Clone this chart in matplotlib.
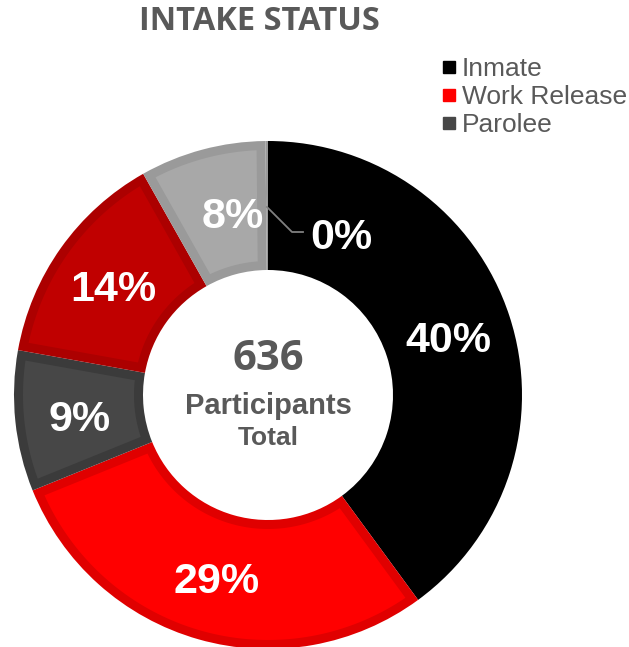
import numpy as np
import matplotlib.pyplot as plt
from matplotlib.lines import Line2D
from matplotlib.patches import Polygon

# intake counts (636 total), clockwise from 12 o'clock
labels = ['Inmate', 'Work Release', 'Parolee', 'Other 1', 'Other 2', 'Other 3']
counts = [254, 184, 57, 89, 51, 1]
pct_text = ['40%', '29%', '9%', '14%', '8%', '0%']
fills = ['#000000', '#FF0000', '#474747', '#C00000', '#A8A8A8', '#9A9A9A']
edges = ['#000000', '#E00000', '#3B3B3B', '#AC0000', '#9A9A9A', '#9A9A9A']
legend_items = ['Inmate', 'Work Release', 'Parolee']
total = 636

fig = plt.figure(figsize=(6.29, 6.47), dpi=100)
ax = fig.add_axes([0, 0, 1, 1])
R = 254.0  # outer radius in px, used as the data unit
cx, cy = 268, 395
r_in = 125 / R

# full slices in the border colour
wedges, _ = ax.pie(counts, startangle=90, counterclock=False, radius=1,
                   colors=edges, wedgeprops=dict(width=1 - r_in, linewidth=0))

# inner fill of each slice, inset by a constant border
d = 9 / R
for w, fc, ec in zip(wedges, fills, edges):
    if fc == ec:
        continue
    t1, t2 = np.radians(w.theta1), np.radians(w.theta2)
    ro, ri = 1 - d, r_in + d
    ao = np.linspace(t1 + np.arcsin(d / ro), t2 - np.arcsin(d / ro), 80)
    ai = np.linspace(t2 - np.arcsin(d / ri), t1 + np.arcsin(d / ri), 80)
    pts = np.vstack([np.c_[ro * np.cos(ao), ro * np.sin(ao)],
                     np.c_[ri * np.cos(ai), ri * np.sin(ai)]])
    ax.add_patch(Polygon(pts, closed=True, facecolor=fc, edgecolor='none'))

ax.set_aspect('auto')
ax.set_xlim(-cx / R, (629 - cx) / R)
ax.set_ylim(-(647 - cy) / R, cy / R)
ax.axis('off')

# percentage labels (the 8% one sits a bit to the right, as in the original)
r_lab = (1 + r_in) / 2
nudge_x = [0, 0, 0, 0, 14, 0]
ang = 90 - 360 * (np.cumsum(counts) - np.array(counts) / 2) / total
for a, t, nx in zip(ang[:5], pct_text[:5], nudge_x):
    x = r_lab * np.cos(np.radians(a)) + nx / R
    y = r_lab * np.sin(np.radians(a)) - 5 / R
    ax.text(x, y, t, ha='center', va='center', color='white',
            fontsize=31, fontweight='bold', family='Liberation Sans')

# 0% label with leader line
p0 = ((267 - cx) / R, (cy - 207) / R)
p1 = ((292 - cx) / R, (cy - 232) / R)
p2 = ((303 - cx) / R, (cy - 232) / R)
ax.plot([p0[0], p1[0], p2[0]], [p0[1], p1[1], p2[1]], color='#808080', lw=1.3)
ax.text((341 - cx) / R, (cy - 238) / R, pct_text[5], ha='center', va='center',
        color='white', fontsize=31, fontweight='bold', family='Liberation Sans')

# center text
ax.text(0, (cy - 359) / R, str(total), ha='center', va='center', color='#595959',
        fontsize=30, fontweight='bold', family='Open Sans')
ax.text(0, (cy - 406) / R, 'Participants', ha='center', va='center',
        color='#595959', fontsize=21, fontweight='bold', family='Liberation Sans')
ax.text(0, (cy - 438) / R, 'Total', ha='center', va='center',
        color='#595959', fontsize=19, fontweight='bold', family='Liberation Sans')

fig.text(259 / 629, 1 - 22 / 647, 'INTAKE STATUS', ha='center', va='center',
         color='#595959', fontsize=23.5, fontweight='bold', family='Open Sans')

handles = [Line2D([], [], marker='s', ls='none', markersize=9,
                  markerfacecolor=c, markeredgecolor=c)
           for c in fills[:3]]
leg = fig.legend(handles, legend_items, loc='upper left',
                 bbox_to_anchor=(441 / 629, 1 - 57 / 647), frameon=False,
                 handlelength=0.6, handletextpad=0.2, labelspacing=0.15,
                 borderaxespad=0, borderpad=0,
                 prop=dict(family='Liberation Sans', size=19))
for t in leg.get_texts():
    t.set_color('#595959')

fig.savefig('out.png', dpi=100)
